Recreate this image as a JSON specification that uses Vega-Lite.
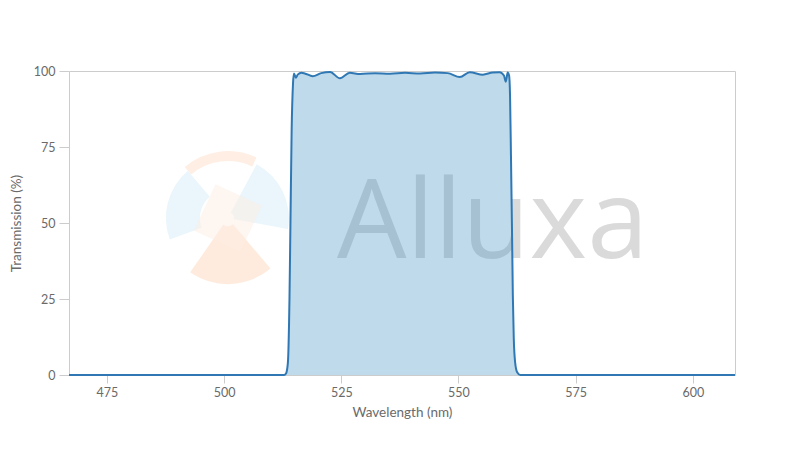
{
  "$schema": "https://vega.github.io/schema/vega-lite/v6.json",
  "width": 666,
  "height": 304,
  "autosize": "none",
  "padding": {"left": 69, "top": 71, "right": 65, "bottom": 75},
  "background": "white",
  "config": {
    "view": {"stroke": "#cccccc", "strokeWidth": 1},
    "font": "Lato",
    "axis": {
      "labelFont": "Lato", "titleFont": "Lato",
      "labelColor": "#6a6a6a", "titleColor": "#6a6a6a",
      "labelFontSize": 12.5, "titleFontSize": 13.5, "titleFontWeight": "normal",
      "tickColor": "#cccccc", "domain": false, "grid": false
    }
  },
  "datasets": {
    "spectrum": [
      {"wavelength": 466.9, "transmission": 0},
      {"wavelength": 500, "transmission": 0},
      {"wavelength": 512.8, "transmission": 0},
      {"wavelength": 513.2, "transmission": 0.5},
      {"wavelength": 513.6, "transmission": 4},
      {"wavelength": 513.94, "transmission": 25},
      {"wavelength": 514.15, "transmission": 50},
      {"wavelength": 514.4, "transmission": 80},
      {"wavelength": 514.7, "transmission": 96},
      {"wavelength": 514.9, "transmission": 99.2},
      {"wavelength": 515.3, "transmission": 97.8},
      {"wavelength": 515.7, "transmission": 98.8},
      {"wavelength": 516.5, "transmission": 99.4},
      {"wavelength": 517.2, "transmission": 99.2},
      {"wavelength": 518.9, "transmission": 98.3},
      {"wavelength": 520.7, "transmission": 99.3},
      {"wavelength": 522.6, "transmission": 99.7},
      {"wavelength": 524.7, "transmission": 97.6},
      {"wavelength": 526.8, "transmission": 99.4},
      {"wavelength": 529.0, "transmission": 99.0},
      {"wavelength": 532.2, "transmission": 99.3},
      {"wavelength": 535.4, "transmission": 99.1},
      {"wavelength": 538.6, "transmission": 99.4},
      {"wavelength": 541.8, "transmission": 99.2},
      {"wavelength": 545.0, "transmission": 99.5},
      {"wavelength": 547.7, "transmission": 99.3},
      {"wavelength": 550.3, "transmission": 98.0},
      {"wavelength": 552.4, "transmission": 99.6},
      {"wavelength": 555.2, "transmission": 98.8},
      {"wavelength": 557.3, "transmission": 99.5},
      {"wavelength": 558.8, "transmission": 99.6},
      {"wavelength": 559.7, "transmission": 98.5},
      {"wavelength": 560.1, "transmission": 96.5},
      {"wavelength": 560.5, "transmission": 99.5},
      {"wavelength": 560.8, "transmission": 98.5},
      {"wavelength": 561.0, "transmission": 92},
      {"wavelength": 561.2, "transmission": 72},
      {"wavelength": 561.4, "transmission": 50},
      {"wavelength": 561.6, "transmission": 26},
      {"wavelength": 561.8, "transmission": 12},
      {"wavelength": 562.1, "transmission": 4},
      {"wavelength": 562.5, "transmission": 1},
      {"wavelength": 563.2, "transmission": 0},
      {"wavelength": 609, "transmission": 0}
    ],
    "logo": [{"wavelength": 500.8, "transmission": 51.6}],
    "mark": [{"wavelength": 557.3, "transmission": 38.5, "label": "Alluxa"}]
  },
  "encoding": {
    "x": {
      "field": "wavelength", "type": "quantitative",
      "scale": {"domain": [466.9, 609], "nice": false, "zero": false},
      "axis": {"title": "Wavelength (nm)", "values": [475, 500, 525, 550, 575, 600], "tickSize": 8, "labelPadding": 3, "titlePadding": 7}
    },
    "y": {
      "field": "transmission", "type": "quantitative",
      "scale": {"domain": [0, 100], "nice": false},
      "axis": {"title": "Transmission (%)", "values": [0, 25, 50, 75, 100], "tickSize": 10, "labelPadding": 4, "titlePadding": 10}
    }
  },
  "layer": [
    {"data": {"name": "logo"}, "mark": {"type": "arc", "theta": -0.70, "theta2": 0.44, "radius": 67, "radius2": 57, "fill": "#fde3d0", "opacity": 0.6}},
    {"data": {"name": "logo"}, "mark": {"type": "arc", "theta": 0.49, "theta2": 1.75, "radius": 61, "radius2": 6, "fill": "#e3f3f9", "opacity": 0.75}},
    {"data": {"name": "logo"}, "mark": {"type": "arc", "theta": 2.44, "theta2": 3.75, "radius": 66, "radius2": 8, "fill": "#fde2cf", "opacity": 0.7}},
    {"data": {"name": "logo"}, "mark": {"type": "arc", "theta": 4.36, "theta2": 5.58, "radius": 62, "radius2": 28, "fill": "#e3f3f9", "opacity": 0.75}},
    {"data": {"name": "logo"}, "mark": {"type": "point", "shape": "square", "size": 2600, "angle": 25, "filled": true, "fill": "#fdeee3", "opacity": 0.5}},
    {"data": {"name": "mark"}, "mark": {"type": "text", "font": "Open Sans", "fontWeight": "normal", "fontSize": 110, "fill": "#dadada", "align": "center", "baseline": "alphabetic"}, "encoding": {"text": {"field": "label"}}},
    {"data": {"name": "spectrum"}, "mark": {"type": "area", "fill": "#3d8fc2", "fillOpacity": 0.33, "interpolate": "monotone"}},
    {"data": {"name": "spectrum"}, "mark": {"type": "line", "stroke": "#2f78b4", "strokeWidth": 2, "interpolate": "monotone"}}
  ]
}
